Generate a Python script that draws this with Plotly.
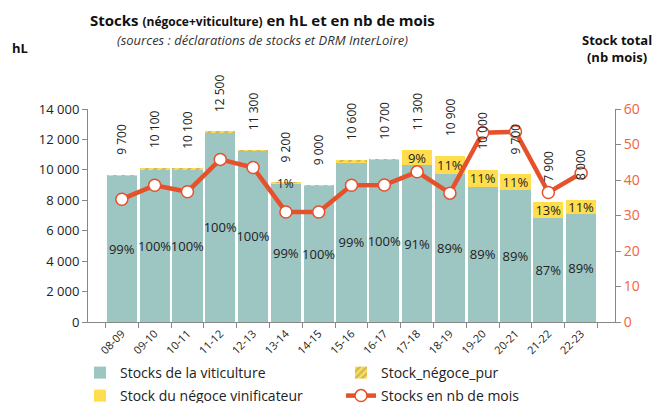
import plotly.graph_objects as go

campagnes = ["08-09", "09-10", "10-11", "11-12", "12-13", "13-14", "14-15", "15-16",
             "16-17", "17-18", "18-19", "19-20", "20-21", "21-22", "22-23"]
totaux = [9700, 10100, 10100, 12500, 11300, 9200, 9000, 10600,
          10700, 11300, 10900, 10000, 9700, 7900, 8000]
totaux_txt = ["9 700", "10 100", "10 100", "12 500", "11 300", "9 200", "9 000", "10 600",
              "10 700", "11 300", "10 900", "10 000", "9 700", "7 900", "8 000"]
stock_viti = [9600, 10050, 10050, 12450, 11250, 9100, 8980, 10500,
              10650, 10300, 9700, 8900, 8650, 6850, 7100]
stock_negoce_vinif = [0, 0, 0, 0, 0, 60, 0, 80, 30, 1000, 1200, 1100, 1050, 1050, 900]
stock_negoce_pur = [50, 50, 50, 50, 50, 40, 20, 20, 20, 0, 0, 0, 0, 0, 0]
pct_viti = ["99%", "100%", "100%", "100%", "100%", "99%", "100%", "99%",
            "100%", "91%", "89%", "89%", "89%", "87%", "89%"]
pct_negoce = ["", "", "", "", "", "", "", "", "", "9%", "11%", "11%", "11%", "13%", "11%"]
pct_negoce_1314 = "1%"
nb_mois = [34.6, 38.5, 36.7, 45.8, 43.5, 31.0, 31.0, 38.5,
           38.6, 42.3, 36.3, 53.3, 53.6, 36.5, 41.9]

TEAL = "#9DC5C2"
YELLOW = "#FFDD4D"
ORANGE = "#E5512B"
FONT = "Open Sans"

# page body has an 8px margin: figure is drawn from screen (8, 8)
OFF = 8
W, H = 661 - OFF, 403 - OFF
L, T = 88 - OFF, 109 - OFF
pw, ph = 527, 213
R = W - L - pw
B = H - T - ph


def px(sx):
    return (sx - OFF - L) / pw


def py(sy):
    return (T + ph - (sy - OFF)) / ph


fig = go.Figure()
fig.add_trace(go.Bar(
    x=campagnes, y=stock_viti, name="Stocks de la viticulture",
    marker=dict(color=TEAL, line=dict(width=0)),
    text=pct_viti, textposition="inside", insidetextanchor="middle",
    constraintext="none", textangle=0,
    textfont=dict(size=13, color="#222", family=FONT),
    legend="legend", legendrank=1, hoverinfo="skip"))
fig.add_trace(go.Bar(
    x=campagnes, y=stock_negoce_vinif, name="Stock du négoce vinificateur",
    marker=dict(color=YELLOW, line=dict(width=0)),
    text=pct_negoce, textposition="inside", insidetextanchor="middle",
    constraintext="none", textangle=0,
    textfont=dict(size=13, color="#222", family=FONT),
    legend="legend2", legendrank=3, hoverinfo="skip"))
fig.add_trace(go.Bar(
    x=campagnes, y=stock_negoce_pur, name="Stock_négoce_pur",
    marker=dict(color=YELLOW, line=dict(width=0),
                pattern=dict(shape="/", fgcolor="#8a8a8a", bgcolor=YELLOW, size=6, solidity=0.4)),
    legend="legend", legendrank=2, hoverinfo="skip"))
fig.add_trace(go.Scatter(
    x=campagnes, y=nb_mois, name="Stocks en nb de mois", yaxis="y2",
    mode="lines+markers",
    line=dict(color=ORANGE, width=4.5),
    marker=dict(size=12, color="white", line=dict(color=ORANGE, width=1.5)),
    legend="legend2", legendrank=4, hoverinfo="skip"))

annotations = []
for c, t, lab in zip(campagnes, totaux, totaux_txt):
    annotations.append(dict(x=c, y=t, xref="x", yref="y", text=lab, showarrow=False,
                            textangle=-90, yanchor="bottom", xanchor="center", yshift=18,
                            font=dict(size=12, color="#222", family=FONT)))
annotations.append(dict(x=campagnes[5], y=totaux[5], xref="x", yref="y", text=pct_negoce_1314,
                        showarrow=False, yanchor="middle", xanchor="center", yshift=-1,
                        font=dict(size=12, color="#222", family=FONT)))
annotations += [
    dict(x=px(262), y=py(20), xref="paper", yref="paper", showarrow=False,
         xanchor="center", yanchor="middle",
         text="<b>Stocks <span style='font-size:12px'>(négoce+viticulture)</span> en hL et en nb de mois</b>",
         font=dict(size=15, color="#111", family=FONT)),
    dict(x=px(262), y=py(40), xref="paper", yref="paper", showarrow=False,
         xanchor="center", yanchor="middle",
         text="<i>(sources : déclarations de stocks et DRM InterLoire)</i>",
         font=dict(size=13, color="#333", family=FONT)),
    dict(x=px(10), y=py(48), xref="paper", yref="paper", showarrow=False,
         xanchor="left", yanchor="middle",
         text="<b>hL</b>", font=dict(size=13, color="#111", family=FONT)),
    dict(x=px(617), y=py(49), xref="paper", yref="paper", showarrow=False,
         xanchor="center", yanchor="middle",
         text="<b>Stock total</b><br><b>(nb mois)</b>", align="center",
         font=dict(size=13, color="#111", family=FONT)),
]

fig.update_layout(
    width=W, height=H,
    margin=dict(l=L, r=R, t=T, b=B, autoexpand=False),
    paper_bgcolor="white", plot_bgcolor="white",
    barmode="stack", bargap=0.08,
    separators=", ",
    font=dict(family=FONT, color="#222"),
    showlegend=True,
    xaxis=dict(type="category", automargin=False, showline=True, linecolor="#888", linewidth=1,
               ticks="outside", tickson="boundaries", ticklen=5, tickcolor="#888", tickangle=-45,
               tickfont=dict(size=11, color="#222")),
    yaxis=dict(range=[0, 14000], dtick=2000, tickformat=",d", showgrid=False, automargin=False,
               showline=True, linecolor="#888", ticks="outside", ticklen=5, tickcolor="#888",
               tickfont=dict(size=13, color="#222"), zeroline=False),
    yaxis2=dict(range=[0, 60], dtick=10, overlaying="y", side="right", showgrid=False,
                automargin=False,
                showline=True, linecolor="#888", ticks="outside", ticklen=5, tickcolor="#888",
                tickfont=dict(size=14, color="#F0643C"), zeroline=False),
    legend=dict(orientation="h", x=px(80), xanchor="left", y=py(373), yanchor="middle",
                entrywidth=216, traceorder="normal", font=dict(size=14, color="#222", family=FONT),
                bgcolor="rgba(0,0,0,0)"),
    legend2=dict(orientation="h", x=px(80), xanchor="left", y=py(396), yanchor="middle",
                 entrywidth=216, traceorder="normal", font=dict(size=14, color="#222", family=FONT),
                 bgcolor="rgba(0,0,0,0)"),
    annotations=annotations,
)

fig.write_html("out.html")
